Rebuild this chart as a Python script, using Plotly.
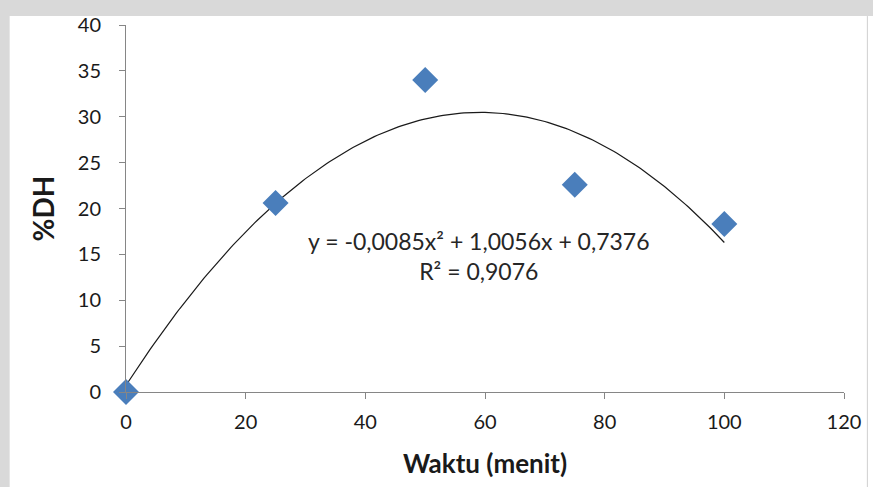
import numpy as np
import plotly.graph_objects as go

# Waktu hidrolisis (menit) dan derajat hidrolisis (%DH)
waktu = [0, 25, 50, 75, 100]
dh = [0, 20.6, 34.0, 22.6, 18.3]

# Koefisien trendline polinomial orde 2: a*x^2 + b*x + c
koef = [-0.0085, 1.0056, 0.7376]
r2 = 0.9076

x_tick_vals = [0, 20, 40, 60, 80, 100, 120]
y_tick_vals = [0, 5, 10, 15, 20, 25, 30, 35, 40]

xs = np.linspace(0, 100, 201)
ys = np.polyval(koef, xs)

FONT = "Lato, Open Sans, sans-serif"


def fmt(v):
    return f"{abs(v):.4f}".replace(".", ",")


fig = go.Figure()
fig.add_trace(go.Scatter(
    x=xs, y=ys, mode="lines",
    line=dict(color="#1a1a1a", width=1.2),
    hoverinfo="skip", showlegend=False,
))
fig.add_trace(go.Scatter(
    x=waktu, y=dh, mode="markers",
    marker=dict(symbol="diamond", size=20, color="#4a7ebb",
                line=dict(width=0)),
    showlegend=False, cliponaxis=False,
))

eq_text = (f"y = -{fmt(koef[0])}x² + {fmt(koef[1])}x + {fmt(koef[2])}<br>"
           f"R² = {fmt(r2)}")
fig.add_annotation(
    x=59.0, y=14.8, xref="x", yref="y", text=eq_text, showarrow=False,
    font=dict(family=FONT, size=23, color="#262626"),
    align="center",
)


# light grey surround with white chart panel
def px_x(p):
    return (p - 126) / 722


def px_y(p):
    return (392 - p) / 370


fig.add_shape(type="rect", xref="paper", yref="paper",
              x0=px_x(9), x1=px_x(890), y0=px_y(500), y1=px_y(13),
              fillcolor="white", line=dict(width=0), layer="below")
fig.add_shape(type="line", xref="paper", yref="paper",
              x0=px_x(871.5), x1=px_x(871.5), y0=px_y(500), y1=px_y(13),
              line=dict(color="#cfcfcf", width=1), layer="below")

fig.update_layout(
    width=873, height=487,
    margin=dict(l=126, r=25, t=22, b=95),
    paper_bgcolor="#d9d9d9",
    plot_bgcolor="rgba(0,0,0,0)",
    font=dict(family=FONT, size=20, color="#1a1a1a"),
    xaxis=dict(
        range=[0, 120], tickvals=x_tick_vals, showgrid=False, zeroline=False,
        showline=True, linecolor="#868686", linewidth=1,
        ticks="outside", ticklen=6, tickcolor="#868686",
        ticklabelstandoff=6,
        title=dict(text="<b>Waktu (menit)</b>", font=dict(size=26), standoff=22),
    ),
    yaxis=dict(
        range=[0, 40], tickvals=y_tick_vals, showgrid=False, zeroline=False,
        showline=True, linecolor="#868686", linewidth=1,
        ticks="outside", ticklen=6, tickcolor="#868686",
        ticklabelstandoff=14,
        title=dict(text="<b>%DH</b>", font=dict(size=28), standoff=14),
    ),
)

fig.write_html("out.html")
